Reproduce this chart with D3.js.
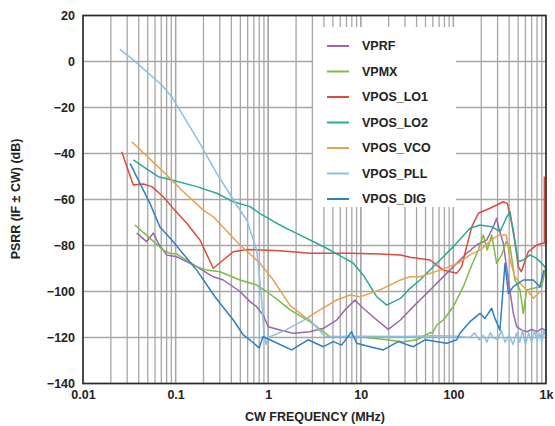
<!DOCTYPE html>
<html>
<head>
  <meta charset="utf-8">
  <title>PSRR vs CW Frequency</title>
  <style>
    body { margin: 0; background: #fff; }
    svg { display: block; font-family: "Liberation Sans", Arial, sans-serif; }
    .tick text { font-size: 12.5px; font-weight: bold; fill: #222; }
    .grid line { stroke: #a6a6a6; stroke-width: 1.3px; }
    .series { fill: none; stroke-width: 1.5px; stroke-linejoin: round; }
    .legend text { font-size: 12.5px; font-weight: bold; fill: #222; }
  </style>
</head>
<body>
  <svg width="555" height="426"></svg>

  <script src="https://d3js.org/d3.v7.min.js"></script>
  <script>
    // tick values / labels
    var xTickValues = [0.01, 0.1, 1, 10, 100, 1000];
    var xTickLabels = ["0.01", "0.1", "1", "10", "100", "1k"];
    var yTickValues = [-140, -120, -100, -80, -60, -40, -20, 0, 20];

    var seriesNames = ["VPRF", "VPMX", "VPOS_LO1", "VPOS_LO2", "VPOS_VCO", "VPOS_PLL", "VPOS_DIG"];
    var seriesColors = ["#9b66ad", "#7dbb49", "#d94c3d", "#2aa79b", "#e9a24f", "#8cbfe3", "#2f7fc1"];

    // [frequency MHz, PSRR dB]
    var vprf = [[0.038,-74.6],[0.0487,-78.3],[0.0574,-74.6],[0.065,-79],[0.08,-84.1],[0.103,-84.9],[0.169,-89.2],
      [0.255,-93.6],[0.327,-95],[0.496,-100],[0.636,-104.4],[0.751,-106.6],[0.88,-110.2],[1.0,-115.3],[1.34,-116.7],
      [1.87,-118.2],[2.83,-117.5],[3.94,-116],[5.49,-112.4],[6.75,-108],[8.65,-103.7],[10.6,-107.3],[14.9,-112.4],
      [19.8,-116.5],[26.8,-112.4],[34,-108],[43.6,-103.7],[60.7,-97.9],[91.8,-90.7],[139,-83.4],[178,-79.8],
      [229,-77.6],[270,-71.8],[293,-68.2],[313,-73.3],[346,-79],[392,-95],[444,-109.5],[483,-115.3],[541,-116.7],
      [620,-117.5],[700,-116.5],[800,-117.5],[900,-116],[1000,-117]];

    var vpmx = [[0.0364,-71.1],[0.0529,-76.9],[0.0736,-82],[0.087,-83.4],[0.103,-83.7],[0.169,-89.2],[0.217,-90.7],
      [0.302,-91.4],[0.496,-95],[0.751,-97.2],[0.96,-100],[1.34,-104.4],[1.72,-108],[2.83,-113.1],[4.65,-119.7],
      [9.8,-119.7],[28.8,-121.8],[40.2,-121],[51.5,-118.6],[60.7,-117.5],[66,-114.6],[77.8,-112.4],[99.8,-106.6],
      [128,-97.9],[158,-88.5],[186,-82],[210,-75.4],[232,-82],[259,-75.4],[293,-87.7],[332,-84.1],[372,-78.3],
      [409,-80.5],[462,-95],[524,-99.3],[569,-109.5],[619,-99.3],[729,-98.6],[898,-97.9],[1000,-89]];

    var vposLo1 = [[0.0262,-39.2],[0.0349,-53.7],[0.0448,-53.3],[0.0553,-54.4],[0.0736,-58.8],[0.0908,-63.1],
      [0.132,-70.3],[0.183,-77.6],[0.255,-89.9],[0.327,-86.3],[0.42,-82.7],[0.586,-81.7],[1.34,-82.3],[2.83,-83.4],
      [7.64,-83.4],[16.1,-83.7],[26.8,-84.1],[34,-85.1],[55.9,-86.3],[77.8,-90.7],[108.6,-92.1],[123,-89.2],
      [139,-80.5],[158,-71.8],[186,-66],[248,-63.8],[346,-61],[382,-61.7],[444,-73.3],[502,-89.2],[541,-91.4],
      [644,-82.7],[794,-79.8],[921,-79],[960,-79],[960,-50]];

    var vposLo2 = [[0.0349,-42.8],[0.0448,-45.7],[0.065,-50.1],[0.091,-51.5],[0.169,-54.4],[0.278,-57.3],[0.42,-61],
      [0.636,-63.1],[0.81,-66],[1.34,-71.1],[1.72,-73.3],[4.28,-81.2],[8.3,-87.7],[10.6,-92.8],[14.9,-102.3],
      [19.05,-105.9],[26.8,-103],[32.6,-99.3],[43.6,-95],[71.7,-86.3],[99.8,-80.5],[151,-72.5],[194,-71.1],
      [259,-71.8],[318,-74],[378,-67.5],[409,-65.3],[444,-74.7],[502,-87],[569,-86.3],[672,-84.1],[794,-85.6],
      [935,-88.5],[1000,-90]];

    var vposVco = [[0.0336,-34.9],[0.08,-49.3],[0.116,-55.9],[0.199,-64.6],[0.255,-67.5],[0.496,-79.8],[0.815,-87.7],
      [1.135,-95],[1.72,-106],[2.6,-111.7],[3.62,-108],[5.49,-103.7],[7.64,-101.5],[9.8,-102.3],[16.1,-99.3],
      [26.8,-95],[34,-93.6],[43.6,-93.6],[71.7,-90.7],[113,-87.7],[151,-84.1],[194,-82],[270,-76.9],[318,-75.4],
      [372,-75.4],[409,-86.3],[462,-93.6],[524,-96.4],[644,-100],[729,-103],[794,-101.5],[861,-100]];

    var vposPll = [[0.025,5.3],[0.035,0.7],[0.0708,-10.2],[0.0908,-15.3],[0.183,-35.6],[0.278,-48.6],[0.457,-62.4],
      [0.586,-68.9],[0.751,-82],[0.851,-103.7],[0.9,-118],[0.95,-123],[1.0,-120],[1.5,-117],[2.69,-111.5],
      [4.1,-119.6],[10,-119.5],[30,-119.6],[60,-119.2],[100,-119.3],[150,-120],[170,-118],[190,-121],[210,-119],
      [230,-122],[250,-118],[270,-120],[300,-121],[330,-117],[360,-122],[400,-119],[440,-123],[480,-118],
      [520,-122],[560,-117],[600,-123],[650,-118],[700,-122],[750,-117],[800,-121],[850,-118],[900,-122],
      [950,-117],[1000,-120]];

    var vposDig = [[0.0322,-44.3],[0.0529,-61.7],[0.0678,-72],[0.0908,-77.6],[0.169,-90.7],[0.266,-102.3],
      [0.42,-112.4],[0.538,-118.9],[0.636,-121.1],[0.8,-124.5],[0.88,-119.6],[1.04,-121],[1.79,-125.4],[2.7,-121],
      [3.94,-124],[5.05,-121.8],[6.2,-123.3],[7.95,-117.5],[9.0,-122.5],[12.6,-124],[17.5,-125.4],[25.4,-121.8],
      [36.9,-124],[49.3,-121],[84.7,-122.5],[108.6,-121],[118,-118],[151,-113.1],[194,-109.5],[219,-111.7],
      [259,-107.3],[281,-111.7],[318,-116.8],[361,-87.7],[392,-100.8],[444,-97.9],[569,-95],[729,-95],
      [861,-97.9],[950,-90.7]];

    var seriesData = [vprf, vpmx, vposLo1, vposLo2, vposVco, vposPll, vposDig];

    var plotLeft = 83, plotRight = 546, plotTop = 15.5, plotBottom = 383.5;

    var svg = d3.select("svg");

    var x = d3.scaleLog().domain([0.01, 1000]).range([plotLeft, plotRight]);
    var y = d3.scaleLinear().domain([-140, 20]).range([plotBottom, plotTop]);

    // minor + major vertical grid
    var xGridValues = [];
    [0.01, 0.1, 1, 10, 100].forEach(function (d) {
      for (var k = 1; k <= 10; k++) xGridValues.push(d * k);
    });

    svg.append("g")
      .attr("class", "grid")
      .selectAll("line")
      .data(xGridValues)
      .enter().append("line")
      .attr("x1", function (d) { return x(d); })
      .attr("x2", function (d) { return x(d); })
      .attr("y1", plotTop)
      .attr("y2", plotBottom);

    svg.append("g")
      .attr("class", "grid")
      .selectAll("line")
      .data(yTickValues)
      .enter().append("line")
      .attr("x1", plotLeft)
      .attr("x2", plotRight)
      .attr("y1", function (d) { return y(d); })
      .attr("y2", function (d) { return y(d); });

    // legend box hides the grid behind it
    svg.append("rect")
      .attr("x", 313).attr("y", 27)
      .attr("width", 143).attr("height", 180)
      .attr("fill", "#fff");

    svg.append("clipPath").attr("id", "plot-clip")
      .append("rect")
      .attr("x", plotLeft).attr("y", plotTop)
      .attr("width", plotRight - plotLeft).attr("height", plotBottom - plotTop);

    var line = d3.line()
      .x(function (d) { return x(d[0]); })
      .y(function (d) { return y(d[1]); });

    svg.append("g")
      .attr("clip-path", "url(#plot-clip)")
      .selectAll("path")
      .data(seriesData)
      .enter().append("path")
      .attr("class", "series")
      .attr("stroke", function (d, i) { return seriesColors[i]; })
      .attr("d", line);

    // frame
    svg.append("rect")
      .attr("x", plotLeft).attr("y", plotTop)
      .attr("width", plotRight - plotLeft).attr("height", plotBottom - plotTop)
      .attr("fill", "none")
      .attr("stroke", "#2b2b2b")
      .attr("stroke-width", 1.6);

    // axes (labels only)
    var xAxis = d3.axisBottom(x)
      .tickValues(xTickValues)
      .tickSize(0)
      .tickPadding(7)
      .tickFormat(function (d, i) { return xTickLabels[i]; });

    svg.append("g")
      .attr("transform", "translate(0," + plotBottom + ")")
      .call(xAxis)
      .call(function (g) { g.select(".domain").remove(); });

    var yAxis = d3.axisLeft(y)
      .tickValues(yTickValues)
      .tickSize(0)
      .tickPadding(8);

    svg.append("g")
      .attr("transform", "translate(" + plotLeft + ",0)")
      .call(yAxis)
      .call(function (g) { g.select(".domain").remove(); });

    // axis titles
    svg.append("text")
      .attr("x", 315)
      .attr("y", 421)
      .attr("text-anchor", "middle")
      .style("font-size", "12.5px")
      .style("font-weight", "bold")
      .attr("fill", "#222")
      .text("CW FREQUENCY (MHz)");

    svg.append("text")
      .attr("transform", "translate(20,199) rotate(-90)")
      .attr("text-anchor", "middle")
      .style("font-size", "12.5px")
      .style("font-weight", "bold")
      .attr("fill", "#222")
      .text("PSRR (IF ± CW) (dB)");

    // legend
    var legend = svg.append("g")
      .attr("class", "legend")
      .selectAll("g")
      .data(seriesNames)
      .enter().append("g")
      .attr("transform", function (d, i) { return "translate(0," + (46 + i * 25.5) + ")"; });

    legend.append("line")
      .attr("x1", 327).attr("x2", 349)
      .attr("stroke", function (d, i) { return seriesColors[i]; })
      .attr("stroke-width", 2);

    legend.append("text")
      .attr("x", 362)
      .attr("dy", "0.35em")
      .text(function (d) { return d; });
  </script>
</body>
</html>
